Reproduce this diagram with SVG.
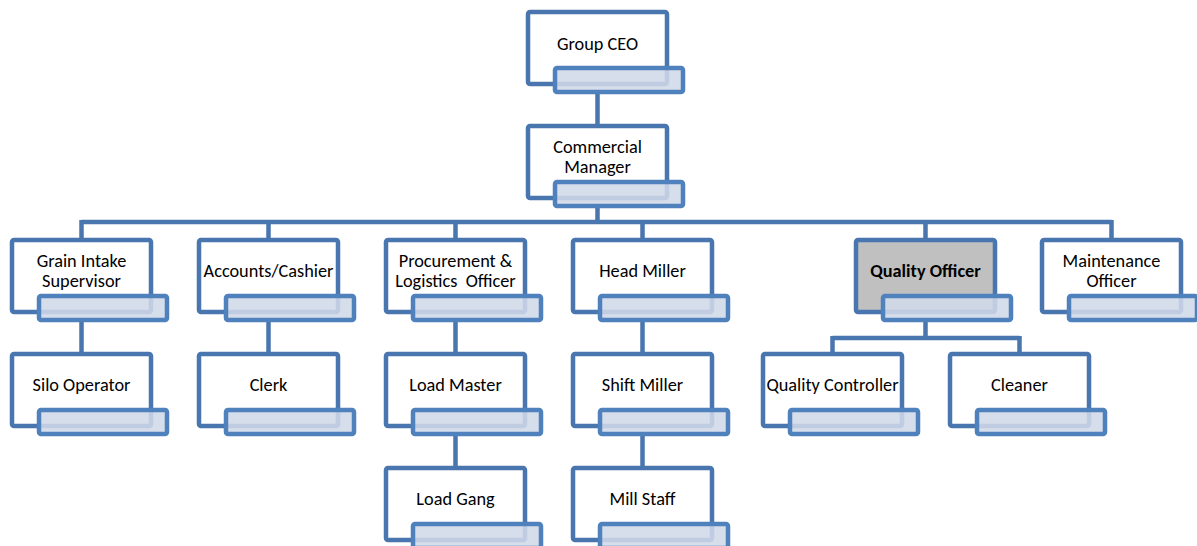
<svg xmlns="http://www.w3.org/2000/svg" width="1197" height="546" viewBox="0 0 1197 546">
<style>
.box{fill:#ffffff;stroke:#4a76b0;stroke-width:4.5}
.hl{fill:#c0c0c0}
.tab{fill:#d0d8e8;fill-opacity:0.88;stroke:#4f81bd;stroke-width:4.5}
.lbl{font-family:Carlito,Lato,"Liberation Sans",sans-serif;font-size:18.3px;fill:#000;text-anchor:middle}
.b{font-weight:bold}
#connectors path{fill:none;stroke:#4a76b0;stroke-width:4.5}
</style>
<rect width="1197" height="546" fill="#ffffff"/>
<g id="connectors">
<path d="M597.5 92V126"/>
<path d="M597.5 206V222M81.5 222H1111.5M81.5 220V240M268.5 220V240M455.5 220V240M642.5 220V240M925.5 220V240M1111.5 220V240"/>
<path d="M81.5 320V354M268.5 320V354M455.5 320V354M642.5 320V354"/>
<path d="M925.5 320V338M832.5 338H1019.5M832.5 336V354M1019.5 336V354"/>
<path d="M455.5 434V468M642.5 434V468"/>
</g>
<g id="n-ceo"><rect class="box" x="528" y="12" width="139" height="72" rx="2"/><rect class="tab" x="555" y="68" width="128" height="24" rx="2"/><text class="lbl" x="597.5" y="50">Group CEO</text></g>
<g id="n-cm"><rect class="box" x="528" y="126" width="139" height="72" rx="2"/><rect class="tab" x="555" y="182" width="128" height="24" rx="2"/><text class="lbl" x="597.5" y="153">Commercial</text><text class="lbl" x="597.5" y="173">Manager</text></g>
<g id="n-gis"><rect class="box" x="12" y="240" width="139" height="72" rx="2"/><rect class="tab" x="39" y="296" width="128" height="24" rx="2"/><text class="lbl" x="81.5" y="267">Grain Intake</text><text class="lbl" x="81.5" y="287">Supervisor</text></g>
<g id="n-acc"><rect class="box" x="199" y="240" width="139" height="72" rx="2"/><rect class="tab" x="226" y="296" width="128" height="24" rx="2"/><text class="lbl" x="268.5" y="277">Accounts/Cashier</text></g>
<g id="n-proc"><rect class="box" x="386" y="240" width="139" height="72" rx="2"/><rect class="tab" x="413" y="296" width="128" height="24" rx="2"/><text class="lbl" x="455.5" y="267">Procurement &amp;</text><text class="lbl" x="455.5" y="287" xml:space="preserve">Logistics  Officer</text></g>
<g id="n-hm"><rect class="box" x="573" y="240" width="139" height="72" rx="2"/><rect class="tab" x="600" y="296" width="128" height="24" rx="2"/><text class="lbl" x="642.5" y="277">Head Miller</text></g>
<g id="n-qo"><rect class="box hl" x="856" y="240" width="139" height="72" rx="2"/><rect class="tab" x="883" y="296" width="128" height="24" rx="2"/><text class="lbl b" x="925.5" y="277">Quality Officer</text></g>
<g id="n-mo"><rect class="box" x="1042" y="240" width="139" height="72" rx="2"/><rect class="tab" x="1069" y="296" width="128" height="24" rx="2"/><text class="lbl" x="1111.5" y="267">Maintenance</text><text class="lbl" x="1111.5" y="287">Officer</text></g>
<g id="n-silo"><rect class="box" x="12" y="354" width="139" height="72" rx="2"/><rect class="tab" x="39" y="410" width="128" height="24" rx="2"/><text class="lbl" x="81.5" y="391">Silo Operator</text></g>
<g id="n-clerk"><rect class="box" x="199" y="354" width="139" height="72" rx="2"/><rect class="tab" x="226" y="410" width="128" height="24" rx="2"/><text class="lbl" x="268.5" y="391">Clerk</text></g>
<g id="n-lm"><rect class="box" x="386" y="354" width="139" height="72" rx="2"/><rect class="tab" x="413" y="410" width="128" height="24" rx="2"/><text class="lbl" x="455.5" y="391">Load Master</text></g>
<g id="n-sm"><rect class="box" x="573" y="354" width="139" height="72" rx="2"/><rect class="tab" x="600" y="410" width="128" height="24" rx="2"/><text class="lbl" x="642.5" y="391">Shift Miller</text></g>
<g id="n-qc"><rect class="box" x="763" y="354" width="139" height="72" rx="2"/><rect class="tab" x="790" y="410" width="128" height="24" rx="2"/><text class="lbl" x="832.5" y="391">Quality Controller</text></g>
<g id="n-cl"><rect class="box" x="950" y="354" width="139" height="72" rx="2"/><rect class="tab" x="977" y="410" width="128" height="24" rx="2"/><text class="lbl" x="1019.5" y="391">Cleaner</text></g>
<g id="n-lg"><rect class="box" x="386" y="468" width="139" height="72" rx="2"/><rect class="tab" x="413" y="524" width="128" height="24" rx="2"/><text class="lbl" x="455.5" y="505">Load Gang</text></g>
<g id="n-ms"><rect class="box" x="573" y="468" width="139" height="72" rx="2"/><rect class="tab" x="600" y="524" width="128" height="24" rx="2"/><text class="lbl" x="642.5" y="505">Mill Staff</text></g>
</svg>
